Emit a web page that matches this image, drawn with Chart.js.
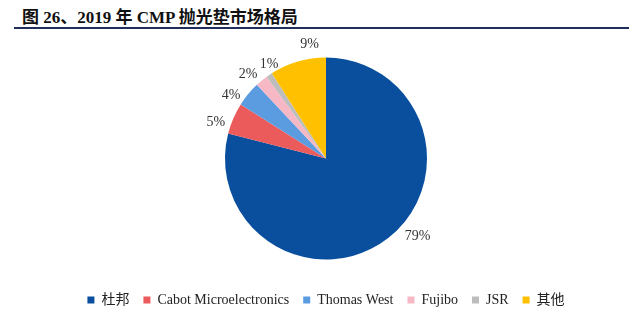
<!DOCTYPE html>
<html><head><meta charset="utf-8">
<script src="https://cdn.jsdelivr.net/npm/chart.js@4/dist/chart.umd.min.js"></script>
<style>
html,body{margin:0;padding:0;background:#fff;width:640px;height:317px;overflow:hidden;}
#title{position:absolute;left:22px;top:3px;font-family:"Liberation Serif","Noto Sans CJK SC",serif;font-weight:bold;font-size:17px;color:#111;white-space:nowrap;}
#rule{position:absolute;left:14px;top:27px;width:615px;height:2px;background:#1f2f5a;}
#wrap{position:absolute;left:0;top:30px;width:640px;height:287px;}
</style></head>
<body>
<div id="title">图 26、2019 年 CMP 抛光垫市场格局</div>
<div id="rule"></div>
<div id="wrap"><canvas id="c"></canvas></div>
<script>
const categories = ["杜邦","Cabot Microelectronics","Thomas West","Fujibo","JSR","其他"];
const shares = [79,5,4,2,1,9];
const pctLabels = ["79%","5%","4%","2%","1%","9%"];
const colors = ["#0a4f9e","#ec5b5b","#5b9be0","#f5b8c4","#bdbdbd","#ffc000"];
// label placement style (degrees nudge, pixel gap) mimicking the reference's spread labels
const labelNudgeDeg = [-12,-5,-6,-3,3,8];
const labelGap = [19,15,13,14,9,14];

const outLabels = {
  id:'outLabels',
  afterDatasetsDraw(chart){
    const ctx = chart.ctx;
    const meta = chart.getDatasetMeta(0);
    ctx.save();
    ctx.font = '14px "Liberation Serif", serif';
    ctx.fillStyle = '#333';
    ctx.textAlign = 'center';
    ctx.textBaseline = 'middle';
    meta.data.forEach((arc,i)=>{
      const p = arc.getProps(['x','y','startAngle','endAngle','outerRadius'],true);
      const mid = (p.startAngle+p.endAngle)/2 + labelNudgeDeg[i]*Math.PI/180;
      const d = p.outerRadius + labelGap[i];
      ctx.fillText(pctLabels[i], p.x + Math.cos(mid)*d, p.y + Math.sin(mid)*d);
    });
    ctx.restore();
  }
};

new Chart(document.getElementById('c'),{
  type:'pie',
  data:{labels:categories,datasets:[{data:shares,backgroundColor:colors,borderWidth:0,radius:101}]},
  options:{
    responsive:true,maintainAspectRatio:false,animation:false,
    layout:{padding:{left:12,right:0,top:8,bottom:0}},
    plugins:{
      tooltip:{enabled:false},
      legend:{position:'bottom',
        labels:{boxWidth:7,boxHeight:7,padding:14,color:'#222',
          font:{family:'"Liberation Serif","Noto Sans CJK SC",serif',size:14}}}
    }
  },
  plugins:[outLabels]
});
</script>
</body></html>
